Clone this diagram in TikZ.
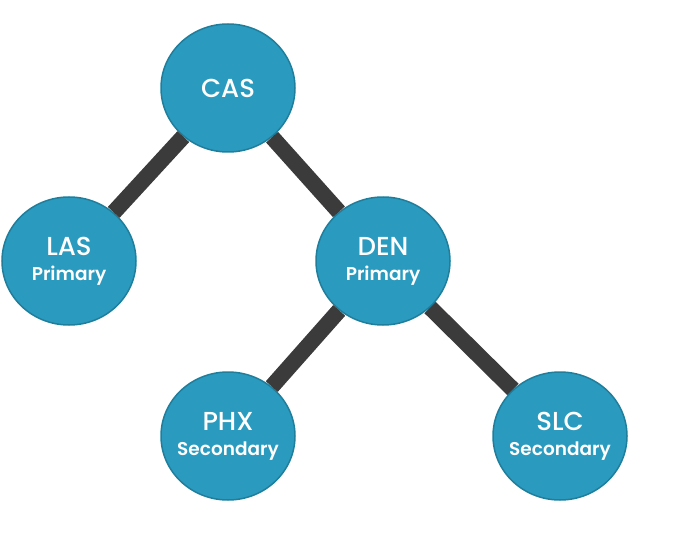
\documentclass[tikz,border=0pt]{standalone}
\usepackage{fontspec}
\setmainfont{Poppins}
\newfontfamily\mainlbl{Poppins Medium}
\newfontfamily\sublbl{Poppins SemiBold}
\usetikzlibrary{shapes.geometric}
\definecolor{nodefill}{HTML}{2A9BBF}
\definecolor{nodeline}{HTML}{1F7E9C}
\definecolor{edgecol}{HTML}{3B3B3B}
\newcommand{\subl}[1]{{\fontsize{18.5}{19}\selectfont\sublbl #1}}
\begin{document}
\begin{tikzpicture}[x=1pt,y=-1pt,
  site/.style={ellipse,draw=nodeline,line width=1.5pt,fill=nodefill,minimum width=134pt,minimum height=128pt,inner sep=0pt,inner xsep=-15pt,text=white,align=center,font=\fontsize{26}{27}\mainlbl},
  link/.style={draw=edgecol,line width=16pt}]
\useasboundingbox (0,0) rectangle (698,548);
\node[site] (cas) at (228,88) {CAS};
\node[site] (las) at (69,261) {LAS\\[-2pt]\subl{Primary}};
\node[site] (den) at (383,261) {DEN\\[-2pt]\subl{Primary}};
\node[site] (phx) at (228,436) {PHX\\[-2pt]\subl{Secondary}};
\node[site] (slc) at (560,436) {SLC\\[-2pt]\subl{Secondary}};
\draw[link] (cas) -- (las);
\draw[link] (cas) -- (den);
\draw[link] (den) -- (phx);
\draw[link] (den) -- (slc);
\end{tikzpicture}
\end{document}
